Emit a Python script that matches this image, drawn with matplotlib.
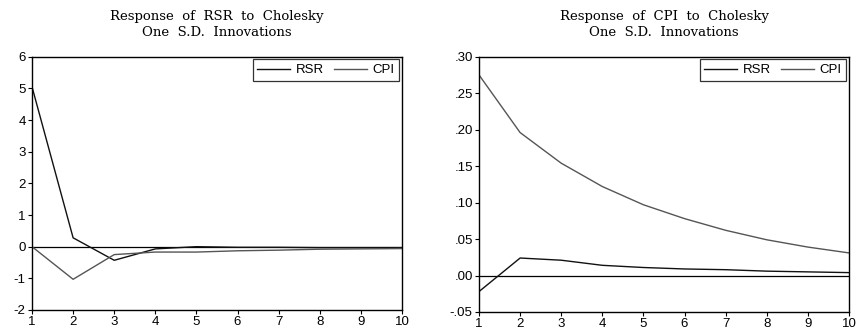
import matplotlib.pyplot as plt
import numpy as np

periods = list(range(1, 11))

# Response of RSR
rsr_to_rsr = [5.05, 0.28, -0.43, -0.07, 0.0, -0.02, -0.02, -0.03, -0.03, -0.03]
rsr_to_cpi = [0.0, -1.03, -0.25, -0.17, -0.17, -0.13, -0.11, -0.08, -0.07, -0.06]

# Response of CPI
cpi_to_rsr = [-0.022, 0.024, 0.021, 0.014, 0.011, 0.009, 0.008, 0.006, 0.005, 0.004]
cpi_to_cpi = [0.275, 0.196, 0.154, 0.122, 0.097, 0.078, 0.062, 0.049, 0.039, 0.031]

titles = ["Response  of  RSR  to  Cholesky\nOne  S.D.  Innovations",
          "Response  of  CPI  to  Cholesky\nOne  S.D.  Innovations"]
series = [(rsr_to_rsr, rsr_to_cpi), (cpi_to_rsr, cpi_to_cpi)]
ylims = [(-2, 6), (-0.05, 0.30)]
yticks = [list(range(-2, 7)), [-0.05, 0.0, 0.05, 0.10, 0.15, 0.20, 0.25, 0.30]]
ylabels = [[str(v) for v in range(-2, 7)],
           ["-.05", ".00", ".05", ".10", ".15", ".20", ".25", ".30"]]

plt.rcParams['font.family'] = ['Liberation Sans', 'DejaVu Sans']

fig = plt.figure(figsize=(8.58, 3.35), dpi=100)
boxes = [[32/858, 1-310/335, 370/858, (310-56.7)/335],
         [479/858, 1-312/335, 370/858, (312-56.7)/335]]

for i in range(2):
    ax = fig.add_axes(boxes[i])
    ax.axhline(0, color='black', lw=0.9)
    ax.plot(periods, series[i][0], color='#111111', lw=1.0, label='RSR')
    ax.plot(periods, series[i][1], color='#555555', lw=1.0, label='CPI')
    ax.set_xlim(1, 10)
    ax.set_ylim(*ylims[i])
    ax.set_xticks(periods)
    ax.set_yticks(yticks[i])
    ax.set_yticklabels(ylabels[i])
    ax.tick_params(direction='out', length=3, width=0.8, labelsize=9.5, pad=1.5)
    for s in ax.spines.values():
        s.set_linewidth(1.0)
    ax.set_title(titles[i], family=['DejaVu Serif'], fontsize=9.5,
                 linespacing=1.25, pad=15)
    leg = ax.legend(loc='upper right', ncol=2, fontsize=9.5, frameon=True,
                    fancybox=False, borderaxespad=0.2, handlelength=2.5,
                    columnspacing=0.8, handletextpad=0.4, borderpad=0.35)
    leg.get_frame().set_edgecolor('black')
    leg.get_frame().set_linewidth(0.9)

fig.savefig("out.png", dpi=100)
